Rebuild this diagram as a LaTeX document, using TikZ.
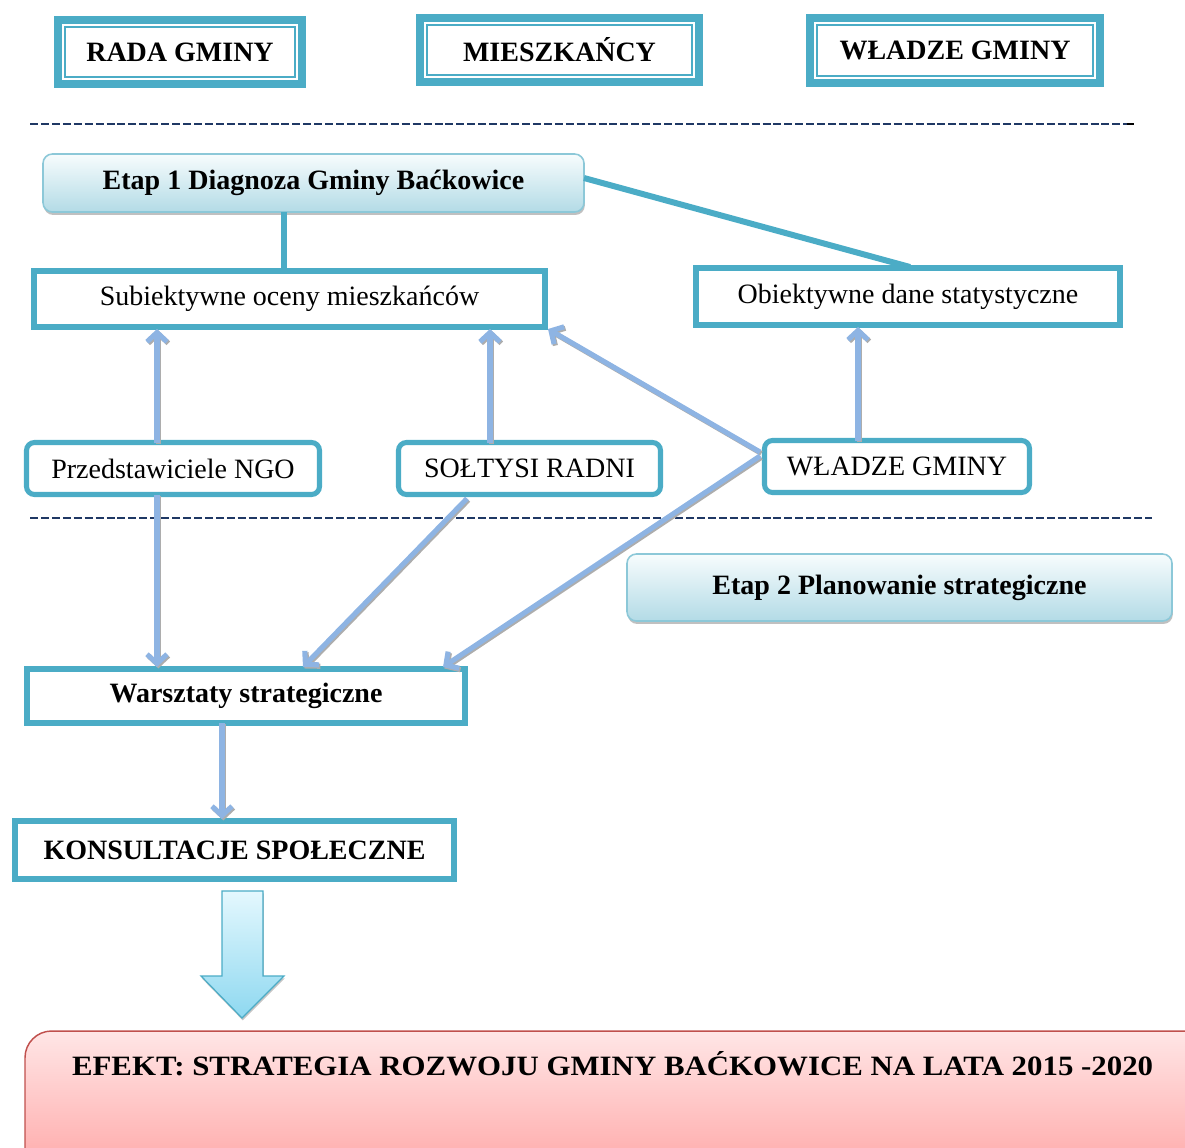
\documentclass[tikz,border=0pt]{standalone}
\usepackage{fontspec}
\usepackage{graphicx}
\setmainfont{Liberation Serif}
\usetikzlibrary{arrows.meta,shadows,calc}
\definecolor{tealc}{HTML}{4BACC6}
\definecolor{arrc}{HTML}{8EB4E3}
\definecolor{navyc}{HTML}{1F3864}
\definecolor{etapT}{HTML}{F7FCFD}
\definecolor{etapB}{HTML}{B3DBE6}
\definecolor{etapD}{HTML}{8CC8D8}
\definecolor{efT}{HTML}{FFE6E6}
\definecolor{efB}{HTML}{FF9C9C}
\definecolor{efD}{HTML}{C0504D}
\definecolor{bigT}{HTML}{E4F8FE}
\definecolor{bigB}{HTML}{8ED8F0}
\newcommand\arrw[2]{%
  \draw[arrsh] #1 -- #2;
  \draw[arr] #1 -- #2;}
\begin{document}
\begin{tikzpicture}[x=0.75pt,y=-0.75pt,
  every node/.style={inner sep=0pt, outer sep=0pt},
  txt/.style={font=\fontsize{21}{25}\selectfont},
  btxt/.style={font=\fontsize{21}{25}\selectfont\bfseries},
  topbox/.style={draw=tealc, line width=6pt, btxt},
  sqbox/.style={draw=tealc, line width=4.5pt, fill=white},
  rbox/.style={draw=tealc, line width=3.8pt, rounded corners=6pt, fill=white, txt},
  etap/.style={draw=etapD, line width=1.2pt, rounded corners=7pt, top color=etapT, bottom color=etapB,
    drop shadow={shadow xshift=0.6pt, shadow yshift=-2.2pt, opacity=0.55, fill=black!45}, btxt},
  tline/.style={draw=tealc, line width=4.5pt},
  arr/.style={draw=arrc, line width=3.8pt, -{Straight Barb[length=7pt,width=15pt]}},
  arrsh/.style={draw=black!32, line width=3.8pt, -{Straight Barb[length=7pt,width=15pt]},
    transform canvas={shift={(1pt,-1.1pt)}}},
  dashline/.style={draw=navyc, line width=1.4pt, dash pattern=on 6pt off 2.2pt}
]
\useasboundingbox (0,0) rectangle (1185,1147);

% top boxes
\node[topbox, minimum width={244*0.75pt}, minimum height={64*0.75pt}] (rada) at (180,52) {\raisebox{-2pt}{RADA GMINY}};
\node[topbox, minimum width={279*0.75pt}, minimum height={64*0.75pt}] (miesz) at (559.5,50) {MIESZKAŃCY};
\node[topbox, minimum width={290*0.75pt}, minimum height={65*0.75pt}] (wtop) at (955,50.5) {WŁADZE GMINY};
\foreach \n in {rada,miesz,wtop}
  \draw[tealc, line width=1.2pt] ($(\n.south west)+(7,-7)$) rectangle ($(\n.north east)+(-7,7)$);

% dashed separators
\coordinate (d1a) at (30,124); \coordinate (d1b) at (1127,124); \coordinate (d1c) at (1134,124);
\draw[dashline] (d1a) -- (d1b);
\draw[black, line width=2pt] (d1b) -- (d1c);
\coordinate (d2a) at (30,518); \coordinate (d2b) at (1152,518);
\draw[dashline] (d2a) -- (d2b);

% stage 1
\node[etap, minimum width={541*0.75pt}, minimum height={58*0.75pt}] (etap1) at (313.5,183) {Etap 1 Diagnoza Gminy Baćkowice};
\node[sqbox, txt, minimum width={511*0.75pt}, minimum height={56*0.75pt}] (subj) at (289.5,299) {Subiektywne oceny mieszkańców};
\node[sqbox, txt, minimum width={424*0.75pt}, minimum height={57*0.75pt}] (obj) at (908,296.5) {Obiektywne dane statystyczne};
\coordinate (c1) at (284,0);
\draw[tline] (etap1.south -| c1) -- (subj.north -| c1);
\draw[tline] ($(etap1.east)+(0,-5)$) -- ($(obj.north)+(2,-1)$);

\node[rbox, minimum width={293*0.75pt}, minimum height={52*0.75pt}] (ngo) at (173,468.5) {Przedstawiciele NGO};
\node[rbox, minimum width={262*0.75pt}, minimum height={52*0.75pt}] (sol) at (529.5,468.5) {SOŁTYSI RADNI};
\node[rbox, minimum width={265*0.75pt}, minimum height={52*0.75pt}] (wmid) at (897,466.5) {WŁADZE GMINY};

% stage 2
\node[etap, minimum width={545*0.75pt}, minimum height={67*0.75pt}] (etap2) at (899.5,587.5) {Etap 2 Planowanie strategiczne};
\node[sqbox, btxt, minimum width={438*0.75pt}, minimum height={54*0.75pt}] (wars) at (246,696) {Warsztaty strategiczne};
\node[sqbox, btxt, minimum width={439*0.75pt}, minimum height={58*0.75pt}] (kons) at (234.5,850) {KONSULTACJE SPOŁECZNE};

% arrows
\coordinate (x157) at (157,0); \coordinate (x490) at (490,0); \coordinate (x858) at (858,0);
\coordinate (x467) at (467,0); \coordinate (x303) at (303,0); \coordinate (x443) at (443,0);
\coordinate (x222) at (222,0);
\coordinate (wa) at (760,452); \coordinate (wb) at (760,456);
\arrw{(ngo.north -| x157)}{($(subj.south -| x157)+(0,2)$)}
\arrw{(sol.north -| x490)}{($(subj.south -| x490)+(0,2)$)}
\arrw{(wa)}{($(subj.south east)+(3,2)$)}
\arrw{(wmid.north -| x858)}{($(obj.south -| x858)+(0,2)$)}
\arrw{(ngo.south -| x157)}{($(wars.north -| x157)+(0,-2)$)}
\arrw{($(sol.south -| x467)+(0,4)$)}{($(wars.north -| x303)+(0,-2)$)}
\arrw{(wb)}{($(wars.north -| x443)+(0,-2)$)}
\arrw{(wars.south -| x222)}{($(kons.north -| x222)+(0,-2)$)}

% big arrow
\path[draw=tealc, line width=0.9pt, top color=bigT, bottom color=bigB,
  drop shadow={shadow xshift=0.6pt, shadow yshift=-1.8pt, opacity=0.5, fill=black!45}]
  (222,891) -- (263,891) -- (263,976) -- (284,976) -- (242,1018) -- (201,976) -- (222,976) -- cycle;

% effect box
\node[draw=efD, line width=1.1pt, rounded corners=20pt, top color=efT, bottom color=efB,
  minimum width={1205*0.75pt}, minimum height={170*0.75pt}, anchor=north west] (efbox) at (25,1031) {};
\node[btxt, anchor=west] (eftxt) at (72,1064) {\scalebox{1.102}[1]{EFEKT: STRATEGIA ROZWOJU GMINY BAĆKOWICE NA LATA 2015 -2020}};
\end{tikzpicture}
\end{document}
